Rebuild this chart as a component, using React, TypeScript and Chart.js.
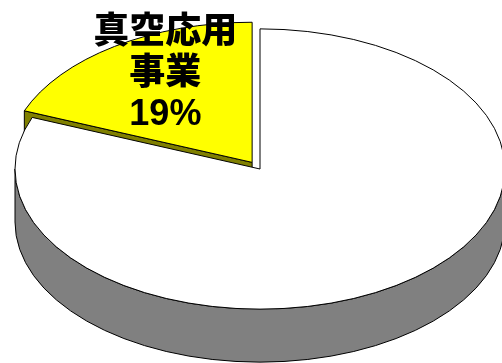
import React, { useEffect, useRef } from 'react';
import { Chart, registerables } from 'chart.js';

Chart.register(...registerables);

const categories = ['真空応用\n事業', 'その他'];
const values = [19, 81];
const showLabel = [true, false];

const TILT = 0.572;
const DEPTH = 53;
const LABEL_FX = 0.63;
const LABEL_FY = 0.76;
const LINE_H = 41;

function arcGeom(arc: any) {
  const p = arc.getProps(['x', 'y', 'startAngle', 'endAngle', 'outerRadius'], true);
  const off = (arc.options.offset || 0) / 4;
  const h = (p.startAngle + p.endAngle) / 2;
  return {
    ox: p.x + Math.cos(h) * off,
    oy: p.y + Math.sin(h) * off * TILT,
    rx: p.outerRadius,
    ry: p.outerRadius * TILT,
    a0: p.startAngle,
    a1: p.endAngle,
    h,
  };
}

const pie3d = {
  id: 'pie3d',
  beforeDatasetsDraw(chart: any) {
    const ctx = chart.ctx as CanvasRenderingContext2D;
    const meta = chart.getDatasetMeta(0);
    const ds: any = chart.data.datasets[0];
    meta.data.forEach((arc: any, i: number) => {
      const { ox, oy, rx, ry, a0, a1 } = arcGeom(arc);
      const o = arc.options;
      const side = ds.sideColor[i];
      ctx.save();
      ctx.lineWidth = 1;
      ctx.strokeStyle = o.borderColor;
      ctx.lineJoin = 'round';
      const face = (t: number) => {
        const px = ox + rx * Math.cos(t);
        const py = oy + ry * Math.sin(t);
        ctx.beginPath();
        ctx.moveTo(ox, oy);
        ctx.lineTo(px, py);
        ctx.lineTo(px, py + DEPTH);
        ctx.lineTo(ox, oy + DEPTH);
        ctx.closePath();
        ctx.fillStyle = side;
        ctx.fill();
        ctx.stroke();
      };
      if (Math.cos(a0) < -1e-6) face(a0);
      if (Math.cos(a1) > 1e-6) face(a1);
      for (const k of [-2 * Math.PI, 0, 2 * Math.PI]) {
        const lo = Math.max(a0, k);
        const hi = Math.min(a1, Math.PI + k);
        if (hi > lo) {
          ctx.beginPath();
          ctx.ellipse(ox, oy, rx, ry, 0, lo, hi, false);
          ctx.lineTo(ox + rx * Math.cos(hi), oy + ry * Math.sin(hi) + DEPTH);
          ctx.ellipse(ox, oy + DEPTH, rx, ry, 0, hi, lo, true);
          ctx.closePath();
          ctx.fillStyle = side;
          ctx.fill();
          ctx.stroke();
        }
      }
      ctx.beginPath();
      ctx.moveTo(ox, oy);
      ctx.ellipse(ox, oy, rx, ry, 0, a0, a1, false);
      ctx.closePath();
      ctx.fillStyle = o.backgroundColor;
      ctx.fill();
      ctx.stroke();
      ctx.restore();
    });
    return false;
  },
  afterDraw(chart: any) {
    const ctx = chart.ctx as CanvasRenderingContext2D;
    const meta = chart.getDatasetMeta(0);
    const data: number[] = chart.data.datasets[0].data;
    const total = data.reduce((s, v) => s + v, 0);
    meta.data.forEach((arc: any, i: number) => {
      if (!showLabel[i]) return;
      const { ox, oy, rx, ry, h } = arcGeom(arc);
      const tx = ox + Math.cos(h) * rx * LABEL_FX;
      const ty = oy + Math.sin(h) * ry * LABEL_FY;
      const lines = String(chart.data.labels[i]).split('\n');
      lines.push(Math.round((data[i] / total) * 100) + '%');
      ctx.save();
      ctx.fillStyle = '#000000';
      ctx.font = '900 36px "Liberation Sans", "Noto Sans CJK JP", sans-serif';
      ctx.textAlign = 'center';
      ctx.textBaseline = 'middle';
      const n = lines.length;
      lines.forEach((ln, j) => {
        ctx.fillText(ln, tx, ty + (j - (n - 1) / 2) * LINE_H);
      });
      ctx.restore();
    });
  },
};

export default function App() {
  const ref = useRef<HTMLCanvasElement>(null);
  useEffect(() => {
    if (!ref.current) return;
    const total = values.reduce((s, v) => s + v, 0);
    const chart = new Chart(ref.current, {
      type: 'pie',
      data: {
        labels: categories,
        datasets: [
          {
            data: values,
            backgroundColor: ['#FFFF00', '#FFFFFF'],
            borderColor: '#000000',
            borderWidth: 1,
            offset: [56, 0],
            hoverOffset: 0,
            radius: 245,
            sideColor: ['#808000', '#808080'],
          } as any,
        ],
      },
      options: {
        responsive: false,
        animation: false,
        devicePixelRatio: 1,
        events: [],
        rotation: -(values[0] / total) * 360,
        layout: { padding: { left: 18, right: 0, top: 0, bottom: 25 } },
        plugins: {
          legend: { display: false },
          tooltip: { enabled: false },
        },
      } as any,
      plugins: [pie3d],
    });
    return () => chart.destroy();
  }, []);
  return (
    <canvas
      ref={ref}
      width={502}
      height={363}
      style={{ position: 'fixed', left: 0, top: 0, display: 'block', background: '#ffffff' }}
    />
  );
}
